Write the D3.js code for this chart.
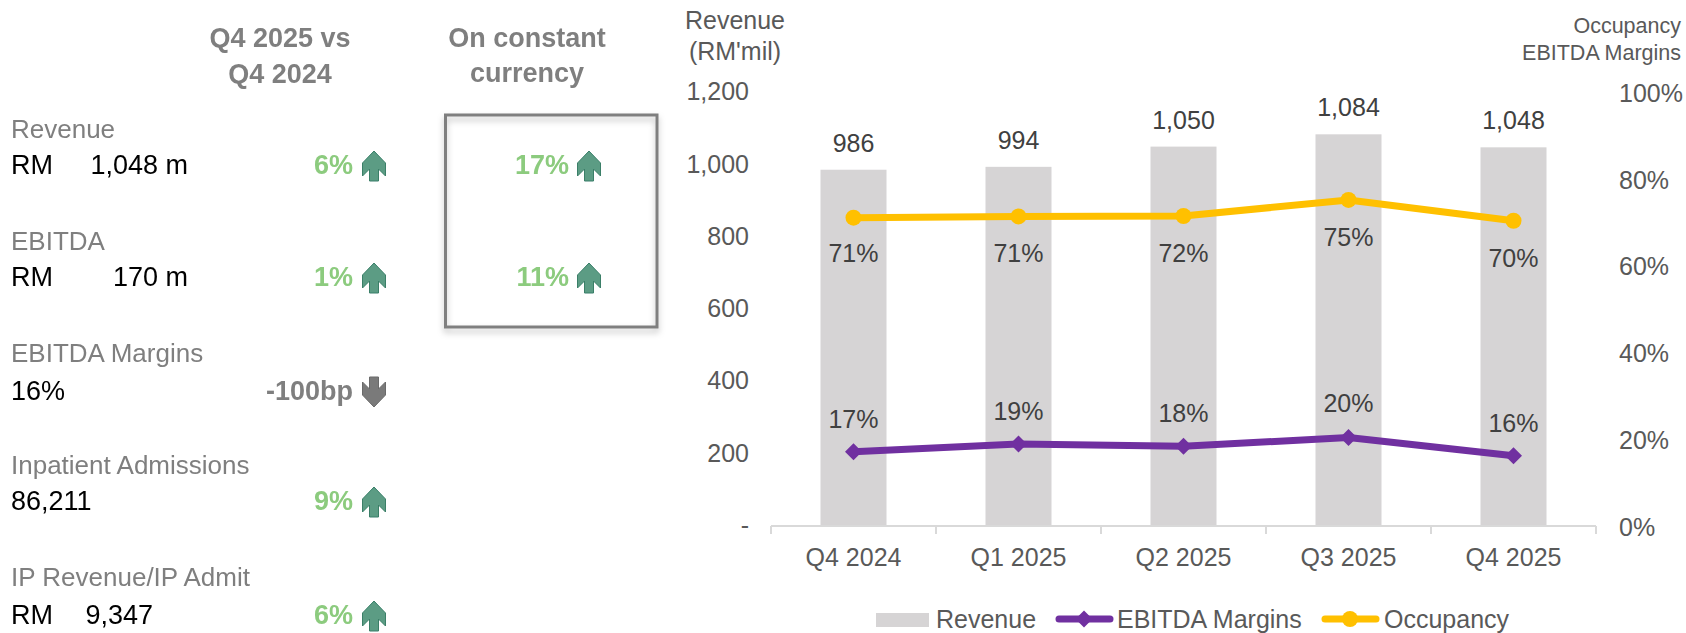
<!DOCTYPE html>
<html><head><meta charset="utf-8">
<script src="https://cdn.jsdelivr.net/npm/d3@7/dist/d3.min.js"></script>
<style>
html,body{margin:0;padding:0;background:#fff}
svg{display:block}
text{font-family:"Liberation Sans",Arial,sans-serif}
</style></head><body>
<svg id="c" width="1686" height="633"></svg>
<script>
const categories=["Q4 2024","Q1 2025","Q2 2025","Q3 2025","Q4 2025"];
const revenue=[986,994,1050,1084,1048];
const occupancy=[71.1,71.4,71.5,75.2,70.4];
const occupancyLabels=["71%","71%","72%","75%","70%"];
const ebitdaMargins=[17.1,18.9,18.4,20.4,16.2];
const ebitdaLabels=["17%","19%","18%","20%","16%"];
const revenueTicks=[0,200,400,600,800,1000,1200];
const percentTicks=[0,20,40,60,80,100];
const rowLabels=["Revenue","EBITDA","EBITDA Margins","Inpatient Admissions","IP Revenue/IP Admit"];
const rowPrefix=["RM","RM","","","RM"];
const rowValues=["1,048 m","170 m","16%","86,211","9,347"];
const rowChange=["6%","1%","-100bp","9%","6%"];
const rowDirection=["up","up","down","up","up"];
const constantChange=["17%","11%"];

const svg=d3.select("#c");
const GREY="#7f7f7f",GREEN="#8ccb7e",AXIS="#595959",DARK="#404040",YEL="#ffc000",PUR="#7030a0",BAR="#d6d4d5";

const defs=svg.append("defs");
const sh=defs.append("filter").attr("id","sh").attr("x","-10%").attr("y","-10%").attr("width","120%").attr("height","120%");
sh.append("feDropShadow").attr("dx",0).attr("dy",4).attr("stdDeviation",3).attr("flood-color","#000").attr("flood-opacity",0.25);
const soft=defs.append("filter").attr("id","soft");
soft.append("feGaussianBlur").attr("stdDeviation",0.35);

/* ---------- left panel ---------- */
const panel=svg.append("g").attr("filter","url(#soft)");
const rowY=[[138,174],[250,286],[362,400],[474,510],[586,624]];
const arrowPath="M0,-15 L11.5,-3 L11.5,10 L4.5,3 L4.5,15 L-4.5,15 L-4.5,3 L-11.5,10 L-11.5,-3 Z";
function arrow(g,x,y,dir){
  g.append("path").attr("d",arrowPath)
   .attr("transform",`translate(${x},${y})`+(dir==="down"?" scale(1,-1)":""))
   .attr("fill",dir==="up"?"#5b9c84":"#7a7a7a")
   .attr("stroke",dir==="up"?"#3a7f68":"#6a6a6a").attr("stroke-width",1);
}
function hdr(t,x,y){panel.append("text").attr("x",x).attr("y",y).attr("text-anchor","middle")
  .attr("font-size",27).attr("font-weight","bold").attr("fill",GREY).text(t);}
hdr("Q4 2025 vs",280,47);hdr("Q4 2024",280,83);hdr("On constant",527,47);hdr("currency",527,82);

rowLabels.forEach((l,i)=>{
  const [y1,y2]=rowY[i];
  panel.append("text").attr("x",11).attr("y",y1).attr("font-size",26).attr("fill",GREY).text(l);
  if(rowPrefix[i]){
    panel.append("text").attr("x",11).attr("y",y2).attr("font-size",27).attr("fill","#000").text(rowPrefix[i]);
    panel.append("text").attr("x",i===4?153:188).attr("y",y2).attr("text-anchor","end").attr("font-size",27).attr("fill","#000").text(rowValues[i]);
  } else {
    panel.append("text").attr("x",11).attr("y",y2).attr("font-size",27).attr("fill","#000").text(rowValues[i]);
  }
  panel.append("text").attr("x",353).attr("y",y2).attr("text-anchor","end").attr("font-size",27).attr("font-weight","bold")
    .attr("fill",rowDirection[i]==="up"?GREEN:GREY).text(rowChange[i]);
  arrow(panel,374,y2-8,rowDirection[i]);
});
panel.append("rect").attr("x",445.5).attr("y",115).attr("width",211.5).attr("height",212)
  .attr("fill","none").attr("stroke",GREY).attr("stroke-width",3).attr("filter","url(#sh)");
constantChange.forEach((t,i)=>{
  const y2=rowY[i][1];
  panel.append("text").attr("x",569).attr("y",y2).attr("text-anchor","end").attr("font-size",27).attr("font-weight","bold").attr("fill",GREEN).text(t);
  arrow(panel,589,y2-8,"up");
});

/* ---------- chart ---------- */
const x=d3.scaleBand().domain(categories).range([771,1596]).paddingInner(0.6).paddingOuter(0.3);
const yL=d3.scaleLinear().domain([0,1200]).range([526,92.4]);
const yR=d3.scaleLinear().domain([0,100]).range([526,92.4]);
const cx=c=>x(c)+x.bandwidth()/2;
const fmt=d3.format(",");
const FF='"Liberation Sans",Arial,sans-serif';

svg.append("g").selectAll("rect").data(categories).join("rect")
  .attr("x",c=>x(c)).attr("width",x.bandwidth())
  .attr("y",(c,i)=>yL(revenue[i])).attr("height",(c,i)=>yL(0)-yL(revenue[i])).attr("fill",BAR);

const ga=svg.append("g").attr("transform","translate(0,526)");
ga.append("line").attr("x1",771).attr("x2",1596).attr("stroke","#d9d9d9").attr("stroke-width",2);
ga.selectAll("line.t").data(d3.range(categories.length+1)).join("line").attr("class","t")
  .attr("x1",i=>771+i*x.step()).attr("x2",i=>771+i*x.step()).attr("y1",0).attr("y2",8)
  .attr("stroke","#d9d9d9").attr("stroke-width",2);

const gx=svg.append("g").attr("transform","translate(0,526)").call(d3.axisBottom(x).tickSize(0).tickPadding(0));
gx.select(".domain").remove();
gx.selectAll("text").attr("font-size",25).attr("fill",AXIS).attr("dy",0).attr("y",40).style("font-family",FF);

const gl=svg.append("g").attr("transform","translate(749,0)")
  .call(d3.axisLeft(yL).tickValues(revenueTicks).tickSize(0).tickPadding(0).tickFormat(d=>d===0?"-":fmt(d)));
gl.select(".domain").remove();
gl.selectAll("text").attr("font-size",25).attr("fill",AXIS).attr("dy","0.3em").style("font-family",FF);

const gr=svg.append("g").attr("transform","translate(1619,0)")
  .call(d3.axisRight(yR).tickValues(percentTicks).tickSize(0).tickPadding(0).tickFormat(d=>d+"%"));
gr.select(".domain").remove();
gr.selectAll("text").attr("font-size",25).attr("fill",AXIS).attr("dy","0.36em").style("font-family",FF);

const line=d3.line().x((d,i)=>cx(categories[i])).y(d=>yR(d));
svg.append("path").datum(occupancy).attr("d",line).attr("fill","none").attr("stroke",YEL).attr("stroke-width",7).attr("stroke-linejoin","round");
svg.append("path").datum(ebitdaMargins).attr("d",line).attr("fill","none").attr("stroke",PUR).attr("stroke-width",7).attr("stroke-linejoin","round");
const diamond="M0,-8.5 L8.5,0 L0,8.5 L-8.5,0 Z";
svg.append("g").selectAll("circle").data(occupancy).join("circle")
  .attr("cx",(d,i)=>cx(categories[i])).attr("cy",d=>yR(d)).attr("r",8).attr("fill",YEL);
svg.append("g").selectAll("path").data(ebitdaMargins).join("path").attr("d",diamond)
  .attr("transform",(d,i)=>`translate(${cx(categories[i])},${yR(d)})`).attr("fill",PUR);

function labels(arr,yf,texts){
  svg.append("g").selectAll("text").data(arr).join("text")
   .attr("x",(d,i)=>cx(categories[i])).attr("y",yf).attr("text-anchor","middle")
   .attr("font-size",25).attr("fill",DARK).text((d,i)=>texts(d,i));
}
labels(revenue,d=>yL(d)-18,d=>fmt(d));
labels(occupancy,(d,i)=>yR(d)+(i===0?44:46),(d,i)=>occupancyLabels[i]);
labels(ebitdaMargins,(d,i)=>yR(d)-(i===3?26:24),(d,i)=>ebitdaLabels[i]);

function t(s,x,y,size,anchor){svg.append("text").attr("x",x).attr("y",y).attr("font-size",size).attr("text-anchor",anchor).attr("fill",AXIS).text(s);}
t("Revenue",735,29,25,"middle");t("(RM'mil)",735,60,25,"middle");
t("Occupancy",1681,33,21.5,"end");t("EBITDA Margins",1681,60,21.5,"end");

/* legend */
const lg=svg.append("g");
lg.append("rect").attr("x",876).attr("y",613).attr("width",53).attr("height",14).attr("fill",BAR);
t("Revenue",936,628,25,"start");
lg.append("line").attr("x1",1059).attr("x2",1110).attr("y1",619).attr("y2",619).attr("stroke",PUR).attr("stroke-width",7).attr("stroke-linecap","round");
lg.append("path").attr("d",diamond).attr("transform","translate(1084,619)").attr("fill",PUR);
t("EBITDA Margins",1117,628,25,"start");
lg.append("line").attr("x1",1325).attr("x2",1376).attr("y1",619).attr("y2",619).attr("stroke",YEL).attr("stroke-width",7).attr("stroke-linecap","round");
lg.append("circle").attr("cx",1350).attr("cy",619).attr("r",8).attr("fill",YEL);
t("Occupancy",1384,628,25,"start");
</script>
</body></html>
